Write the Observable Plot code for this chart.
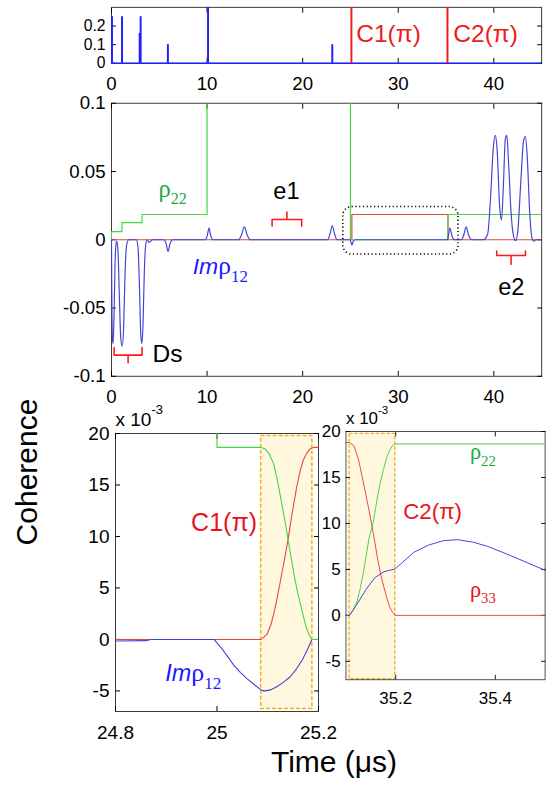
<!DOCTYPE html>
<html><head><meta charset="utf-8">
<script src="https://cdn.jsdelivr.net/npm/d3@7"></script>
<script src="https://cdn.jsdelivr.net/npm/@observablehq/plot@0.6"></script>
<style>
body{margin:0;background:#fff;}
#fig{position:relative;width:550px;height:788px;overflow:hidden;background:#fff;font-family:"Liberation Sans",Arial,sans-serif;color:#000;}
.panel{position:absolute;}
#ylab{position:absolute;left:27px;top:472px;transform:translate(-50%,-50%) rotate(-90deg);font-size:30px;line-height:30px;white-space:nowrap;}
#xlab{position:absolute;left:334px;top:747px;transform:translateX(-50%);font-size:30px;line-height:30px;white-space:nowrap;}
</style>
</head><body>
<div id="fig">
  <div class="panel" id="pA" style="left:0;top:0"></div>
  <div class="panel" id="pB" style="left:0;top:90px"></div>
  <div class="panel" id="pC" style="left:0;top:415px"></div>
  <div class="panel" id="pD" style="left:300px;top:415px"></div>
  <div id="ylab">Coherence</div>
  <div id="xlab">Time (μs)</div>
</div>
<script>
// ---------------- data ----------------
// top strip: excitation pulses (time µs, amplitude)
const pulseTime = [0.05, 1.1, 2.95, 3.05, 5.9, 10.1, 23.1];
const pulseAmp  = [0.25, 0.25, 0.16, 0.25, 0.1, 0.3, 0.1];
const controlTime = [25.1, 35.15];
const controlAmp  = [0.3, 0.3];
const controlLabel = ["C1(π)", "C2(π)"];
const controlLabelTime = [25.6, 35.76];
const controlLabelY = [0.112, 0.112];
const stripXTicks = [0, 10, 20, 30, 40];
const stripYTicks = [0, 0.1, 0.2];

// middle panel: full time traces
const rho22Full = [[0,0],[0,0.006],[1.1,0.0125],[3.2,0.0185],[10,0.5],[25,0],[35.2,0.0185],[45,0.0185]];
const rho33Full = [[0,0],[25.15,0.0185],[35.2,0],[45,0]];
const imRho12Full = [
  [0,0],[0.03,-0.035],[0.1,-0.072],[0.17,-0.076],[0.26,-0.058],[0.36,-0.022],[0.46,-0.004],[0.55,-0.001],
  [0.68,-0.008],[0.82,-0.04],[0.97,-0.072],[1.12,-0.078],[1.27,-0.064],[1.42,-0.025],[1.58,-0.004],[1.8,0],
  [2.6,0],[2.78,-0.006],[2.93,-0.035],[3.07,-0.07],[3.18,-0.076],[3.3,-0.062],[3.43,-0.025],[3.58,-0.004],[3.75,0],
  [3.9,-0.002],[4.1,-0.001],[4.3,0],
  [5.5,0],[5.72,-0.003],[5.92,-0.0085],[6.12,-0.003],[6.4,0],
  [9.8,0],[10.0,0.0025],[10.2,0.0085],[10.4,0.0025],[10.6,0],
  [13.3,0],[13.6,0.0035],[13.9,0.0095],[14.2,0.0035],[14.5,0],
  [22.6,0],[22.85,0.004],[23.1,0.0102],[23.35,0.004],[23.6,0],
  [24.95,0],[25.15,-0.0038],[25.3,-0.001],[25.5,0],
  [35.15,0],[35.4,0.0085],[35.65,0.002],[35.9,0],
  [36.6,0],[36.85,0.0035],[37.1,0.0095],[37.35,0.0035],[37.7,0],
  [38.9,0],[39.35,0.004],[39.65,0.03],[39.95,0.068],[40.15,0.0765],[40.35,0.065],[40.6,0.025],[40.8,0.0145],
  [41.0,0.04],[41.2,0.074],[41.35,0.0765],[41.55,0.055],[41.8,0.02],[42.05,0.003],[42.27,-0.0007],
  [42.5,0.006],[42.8,0.04],[43.1,0.072],[43.3,0.0755],[43.5,0.06],[43.75,0.02],[44.0,0.001],[44.15,-0.001],[44.4,0],[45,0]
];
const zoomBox = {x1: 24.25, x2: 36.3, y1: -0.0108, y2: 0.024};
const braceName = ["Ds", "e1", "e2"];
const braceFrom = [0.28, 16.8, 40.3];
const braceTo   = [3.2, 19.9, 43.3];
const braceEnd  = [-0.079, 0.010, -0.0083];
const braceBar  = [-0.0845, 0.0149, -0.0115];
const braceTip  = [-0.09, 0.0204, -0.018];
const midLabels = [
  {t: 4.92, v: 0.0314, text: "ρ|_22", color: "#22a846", anchor: "start", font: "serif", size: 25},
  {t: 18.3, v: 0.030, text: "e1", color: "#000", anchor: "middle", font: "sans", size: 24},
  {t: 4.3, v: -0.0894, text: "Ds", color: "#000", anchor: "start", font: "sans", size: 25},
  {t: 41.83, v: -0.0407, text: "e2", color: "#000", anchor: "middle", font: "sans", size: 24},
  {t: 8.5, v: -0.0254, text: "/Im|ρ|_12", color: "#1a1aff", anchor: "start", font: "serif", size: 26}
];
const midXTicks = [0, 10, 20, 30, 40];
const midYTicks = [-0.1, -0.05, 0, 0.05, 0.1];

// bottom-left zoom (C1 pulse), values in units of 1e-3
const rho22C1 = [[24.8,30],[25.0,30],[25.0,18.65],[25.087,18.65],[25.095,18.5],[25.103,18.0],[25.112,17.0],[25.12,15.2],[25.128,13.1],[25.135,11.2],[25.141,9.4],[25.148,7.4],[25.154,5.7],[25.161,4.1],[25.1675,2.8],[25.173,1.7],[25.177,1.0],[25.182,0.4],[25.187,0],[25.2,0]];
const rho33C1 = [[24.8,0],[25.087,0],[25.093,0.25],[25.099,0.55],[25.106,1.4],[25.112,2.5],[25.118,3.9],[25.125,5.7],[25.132,7.5],[25.139,9.4],[25.145,11.3],[25.151,13.1],[25.157,14.8],[25.164,16.4],[25.17,17.4],[25.177,18.1],[25.183,18.5],[25.19,18.65],[25.2,18.65]];
const imRho12C1 = [[24.8,-0.15],[24.86,-0.12],[24.87,0],[24.994,0],[25.007,-0.74],[25.02,-1.6],[25.033,-2.5],[25.046,-3.2],[25.059,-3.8],[25.075,-4.45],[25.088,-4.95],[25.095,-5.0],[25.105,-4.9],[25.118,-4.6],[25.131,-4.15],[25.144,-3.65],[25.156,-2.9],[25.168,-2.0],[25.178,-1.0],[25.187,0],[25.2,0]];
const pulseBoxC1 = {x1: 25.087, x2: 25.188, y1: -6.75, y2: 19.75};
const labelsC1 = [
  {t: 24.949, v: 10.5, text: "C1(π)", color: "#e8141b", font: "sans", size: 25},
  {t: 24.898, v: -4.07, text: "/Im|ρ|_12", color: "#1a1aff", font: "serif", size: 26}
];
const xTicksC1 = [24.8, 25, 25.2];

// bottom-right zoom (C2 pulse), values in units of 1e-3
const rho33C2 = [[35.1,18.8],[35.107,18.8],[35.116,18.45],[35.125,17.0],[35.134,14.7],[35.14,13.1],[35.146,11.5],[35.155,8.9],[35.164,6.0],[35.17,4.4],[35.176,3.1],[35.182,1.9],[35.188,0.9],[35.194,0.3],[35.199,0],[35.5,0]];
const rho22C2 = [[35.1,0],[35.107,0],[35.114,0.5],[35.122,1.5],[35.128,2.8],[35.134,4.4],[35.14,6.3],[35.146,8.3],[35.155,10.2],[35.164,13.1],[35.17,14.7],[35.176,16.0],[35.182,17.2],[35.188,18.0],[35.194,18.5],[35.2,18.65],[35.5,18.65]];
const imRho12C2 = [[35.1,0],[35.107,0],[35.122,1.2],[35.14,2.8],[35.158,4.1],[35.176,4.75],[35.199,5.06],[35.212,5.7],[35.236,6.85],[35.266,7.65],[35.296,8.13],[35.325,8.23],[35.355,7.97],[35.385,7.5],[35.415,6.85],[35.457,5.9],[35.5,4.9]];
const pulseBoxC2 = {x1: 35.107, x2: 35.199, y1: -6.94, y2: 19.75};
const labelsC2 = [
  {t: 35.349, v: 17.0, text: "ρ|_22", color: "#22a846", font: "serif", size: 25},
  {t: 35.215, v: 10.5, text: "C2(π)", color: "#e8141b", font: "sans", size: 25},
  {t: 35.349, v: 2.03, text: "ρ|_33", color: "#e8141b", font: "serif", size: 25}
];
const xTicksC2 = [35.2, 35.4];
const zoomYTicks = [-5, 0, 5, 10, 15, 20];

// ---------------- styling ----------------
const SANS = '"Liberation Sans", Arial, sans-serif';
const SERIF = '"Liberation Serif", "Times New Roman", serif';
const BLUE = "#4343d2", GREEN = "#45d545", RED = "#dd4a4a", PULSE_BLUE = "#2020ff", PULSE_RED = "#ee1c1c";
const STYLE = {fontFamily: SANS, fontSize: "19px", background: "transparent", overflow: "visible", color: "#000"};
const fmt = d => String(d);
const blank = () => "";

function axes(xt, yt, yFont) {
  return [
    Plot.frame({stroke: "#3a3a3a"}),
    Plot.axisX(xt, {anchor: "bottom", tickSize: -5, tickPadding: 19, tickFormat: fmt, label: null}),
    Plot.axisX(xt, {anchor: "top", tickSize: -5, tickFormat: blank, label: null}),
    Plot.axisY(yt, {anchor: "left", tickSize: -5, tickPadding: 11, tickFormat: fmt, label: null, fontSize: yFont}),
    Plot.axisY(yt, {anchor: "right", tickSize: -5, tickFormat: blank, label: null})
  ];
}
const px = d => d[0], py = d => d[1];
function labelMarks(list, anchorDefault) {
  return list.map(l => Plot.text([l], {x: "t", y: "v", text: "text", fill: l.color,
    fontSize: l.size, fontFamily: l.font === "serif" ? SERIF : SANS,
    textAnchor: l.anchor || anchorDefault, lineAnchor: "bottom"}));
}

// ---------------- panel A: pulse sequence ----------------
const pulses = pulseTime.map((t, i) => ({t, a: pulseAmp[i]}));
const controls = controlTime.map((t, i) => ({t, a: controlAmp[i], label: controlLabel[i], lt: controlLabelTime[i], ly: controlLabelY[i]}));
const A = Plot.plot({
  width: 560, height: 92, marginLeft: 113, marginRight: 9, marginTop: 7, marginBottom: 28,
  style: STYLE, x: {domain: [0, 45]}, y: {domain: [0, 0.3]},
  marks: [
    ...axes(stripXTicks, stripYTicks, 16),
    Plot.ruleY([0], {stroke: PULSE_BLUE, strokeWidth: 1.5}),
    Plot.ruleX(pulses, {x: "t", y1: 0, y2: "a", stroke: PULSE_BLUE, strokeWidth: 2}),
    Plot.ruleX(controls, {x: "t", y1: 0, y2: "a", stroke: PULSE_RED, strokeWidth: 2}),
    Plot.text(controls, {x: "lt", y: "ly", text: "label", fill: PULSE_RED, fontSize: 25, textAnchor: "start", lineAnchor: "bottom"})
  ]
});

// ---------------- panel B: full traces ----------------
const braces = [];
braceName.forEach((n, i) => {
  const m = (braceFrom[i] + braceTo[i]) / 2;
  [[braceFrom[i], braceEnd[i]], [braceFrom[i], braceBar[i]], [m, braceBar[i]], [m, braceTip[i]],
   [m, braceBar[i]], [braceTo[i], braceBar[i]], [braceTo[i], braceEnd[i]]].forEach(p => braces.push({n, x: p[0], y: p[1]}));
});
const B = Plot.plot({
  width: 560, height: 320, marginLeft: 113, marginRight: 9, marginTop: 13, marginBottom: 29,
  style: STYLE, x: {domain: [0, 45]}, y: {domain: [-0.1, 0.1]},
  marks: [
    ...axes(midXTicks, midYTicks),
    Plot.line(rho33Full, {x: px, y: py, curve: "step-after", stroke: RED, strokeWidth: 1.2}),
    Plot.line(rho22Full, {x: px, y: py, curve: "step-after", stroke: GREEN, strokeWidth: 1.2, clip: true}),
    Plot.line(imRho12Full, {x: px, y: py, curve: "monotone-x", stroke: BLUE, strokeWidth: 1.2, clip: true}),
    Plot.rect([zoomBox], {x1: "x1", x2: "x2", y1: "y1", y2: "y2", rx: 9, fill: "none", stroke: "#000", strokeWidth: 1.6, strokeDasharray: "1.2,2.6"}),
    Plot.line(braces, {x: "x", y: "y", z: "n", stroke: "#ff1a1a", strokeWidth: 1.6}),
    ...labelMarks(midLabels, "start")
  ]
});

// ---------------- panel C: C1 zoom ----------------
const C = Plot.plot({
  width: 320, height: 340, marginLeft: 115, marginRight: 2, marginTop: 18, marginBottom: 44,
  style: STYLE, x: {domain: [24.8, 25.2]}, y: {domain: [-7, 20]},
  marks: [
    Plot.rect([pulseBoxC1], {x1: "x1", x2: "x2", y1: "y1", y2: "y2", fill: "#fff8df", stroke: "#f0b21c", strokeWidth: 1.5, strokeDasharray: "4,2"}),
    ...axes(xTicksC1, zoomYTicks),
    Plot.line(rho33C1, {x: px, y: py, stroke: RED, strokeWidth: 1.1}),
    Plot.line(imRho12C1, {x: px, y: py, stroke: BLUE, strokeWidth: 1.1}),
    Plot.line(rho22C1, {x: px, y: py, stroke: GREEN, strokeWidth: 1.1, clip: true}),
    Plot.text(["x 10|^-3"], {frameAnchor: "top-left", text: d => d, textAnchor: "start", lineAnchor: "bottom", dy: -8, fontSize: 19}),
    ...labelMarks(labelsC1, "start")
  ]
});

// ---------------- panel D: C2 zoom ----------------
const D = Plot.plot({
  width: 280, height: 340, marginLeft: 51, marginRight: 6, marginTop: 18, marginBottom: 44,
  style: STYLE, x: {domain: [35.1, 35.5]}, y: {domain: [-7, 20]},
  marks: [
    Plot.rect([pulseBoxC2], {x1: "x1", x2: "x2", y1: "y1", y2: "y2", fill: "#fff8df", stroke: "#f0b21c", strokeWidth: 1.5, strokeDasharray: "4,2"}),
    ...axes(xTicksC2, zoomYTicks),
    Plot.line(rho33C2, {x: px, y: py, stroke: RED, strokeWidth: 1.1}),
    Plot.line(rho22C2, {x: px, y: py, stroke: GREEN, strokeWidth: 1.1}),
    Plot.line(imRho12C2, {x: px, y: py, stroke: BLUE, strokeWidth: 1.1}),
    Plot.text(["x 10|^-3"], {frameAnchor: "top-left", text: d => d, textAnchor: "start", lineAnchor: "bottom", dy: -8, fontSize: 19}),
    ...labelMarks(labelsC2, "start")
  ]
});

// ---------------- mount + rich text (italic, sub/superscripts) ----------------
document.getElementById("pA").appendChild(A);
document.getElementById("pB").appendChild(B);
document.getElementById("pC").appendChild(C);
document.getElementById("pD").appendChild(D);

function richText(svg) {
  const NS = "http://www.w3.org/2000/svg";
  for (const t of svg.querySelectorAll("text")) {
    const s = t.textContent;
    if (!s.includes("|")) continue;
    const base = parseFloat(getComputedStyle(t).fontSize) || 19;
    t.textContent = "";
    let cur = 0;
    for (const seg of s.split("|")) {
      const ts = document.createElementNS(NS, "tspan");
      let txt = seg, target = 0;
      if (seg[0] === "_") { txt = seg.slice(1); target = 0.3 * base; ts.setAttribute("font-size", (0.66 * base) + "px"); ts.setAttribute("font-family", SERIF); }
      else if (seg[0] === "^") { txt = seg.slice(1); target = -0.62 * base; ts.setAttribute("font-size", (0.68 * base) + "px"); }
      else if (seg[0] === "/") { txt = seg.slice(1); ts.setAttribute("font-style", "italic"); ts.setAttribute("font-family", SANS); ts.setAttribute("font-size", (0.9 * base) + "px"); }
      if (target !== cur) { ts.setAttribute("dy", (target - cur) + "px"); cur = target; }
      ts.textContent = txt;
      t.appendChild(ts);
    }
  }
}
[A, B, C, D].forEach(richText);
</script>
</body></html>
